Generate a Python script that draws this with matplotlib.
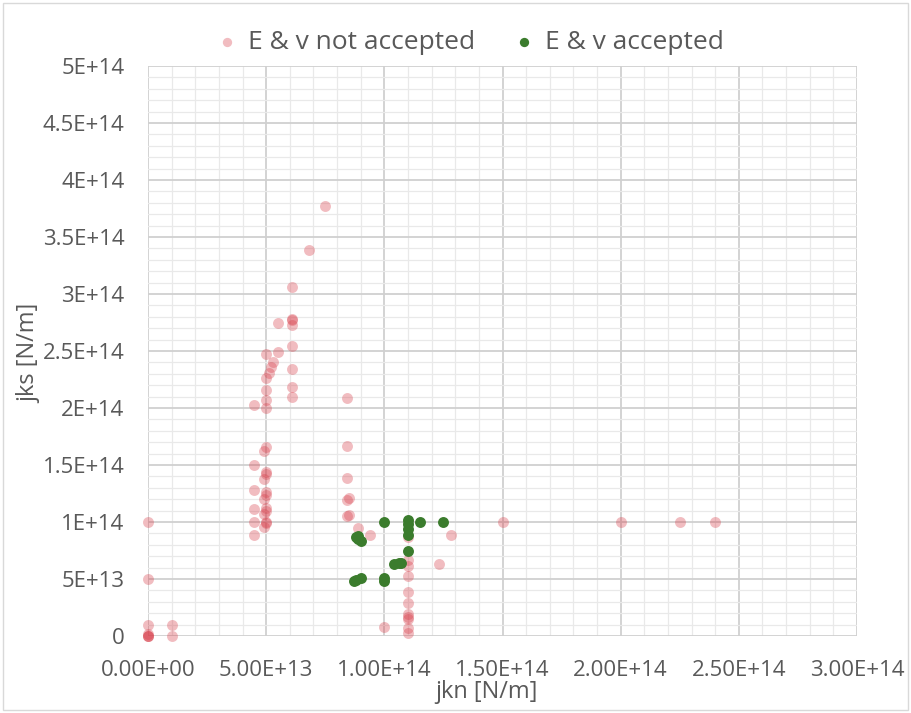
import numpy as np
import matplotlib
matplotlib.use("Agg")
import matplotlib.pyplot as plt
from matplotlib.ticker import MultipleLocator, FixedLocator, FixedFormatter
from matplotlib.patches import Rectangle

plt.rcParams["font.family"] = ["Open Sans", "DejaVu Sans"]
plt.rcParams["xtick.major.pad"] = 17
plt.rcParams["ytick.major.pad"] = 17

# joint normal / shear stiffness combinations [N/m]
rejected_jkn = [
    0, 0, 0, 0, 0, 0, 0, 1.0e13, 1.0e13,
    6.1e13, 6.1e13, 6.1e13, 6.1e13, 5.5e13, 6.1e13, 5.5e13, 5.0e13, 5.3e13,
    5.2e13, 5.1e13, 5.0e13, 6.1e13, 5.0e13, 6.1e13, 6.1e13, 5.0e13, 4.5e13,
    5.0e13, 5.0e13, 4.9e13, 4.5e13, 5.0e13, 5.0e13, 4.9e13, 4.5e13, 5.0e13,
    5.0e13, 4.9e13, 4.5e13, 5.0e13, 5.0e13, 4.9e13, 4.5e13, 5.0e13, 5.0e13,
    4.9e13, 4.5e13,
    7.5e13, 6.8e13,
    8.4e13, 8.4e13, 8.4e13, 8.4e13, 8.5e13, 8.5e13, 8.4e13, 8.9e13, 9.4e13,
    1.1e14, 1.1e14, 1.1e14, 1.1e14, 1.1e14, 1.1e14, 1.1e14, 1.1e14, 1.1e14,
    1.1e14, 1.1e14, 1.0e14,
    1.23e14, 1.28e14, 1.5e14, 2.0e14, 2.25e14, 2.4e14,
]
rejected_jks = [
    1.0e14, 5.0e13, 1.0e13, 0, 0, 0, 2e12, 1.0e13, 0,
    3.06e14, 2.78e14, 2.77e14, 2.73e14, 2.75e14, 2.54e14, 2.49e14, 2.47e14, 2.40e14,
    2.36e14, 2.31e14, 2.26e14, 2.34e14, 2.16e14, 2.18e14, 2.10e14, 2.07e14, 2.03e14,
    2.00e14, 1.66e14, 1.62e14, 1.50e14, 1.44e14, 1.42e14, 1.38e14, 1.28e14, 1.26e14,
    1.24e14, 1.20e14, 1.11e14, 1.12e14, 1.10e14, 1.07e14, 1.00e14, 1.00e14, 9.9e13,
    9.6e13, 8.9e13,
    3.77e14, 3.39e14,
    2.09e14, 1.67e14, 1.39e14, 1.19e14, 1.21e14, 1.06e14, 1.05e14, 9.5e13, 8.9e13,
    8.7e13, 6.7e13, 6.1e13, 5.3e13, 3.9e13, 2.9e13, 1.9e13, 1.7e13, 1.5e13,
    6.7e12, 2.4e12, 8e12,
    6.3e13, 8.9e13, 1.0e14, 1.0e14, 1.0e14, 1.0e14,
]

accepted_jkn = [
    1.0e14, 1.1e14, 1.1e14, 1.1e14, 1.1e14, 1.15e14, 1.25e14,
    8.8e13, 8.9e13, 9.0e13, 8.9e13, 1.1e14,
    1.04e14, 1.06e14, 1.07e14,
    8.7e13, 8.8e13, 9.0e13, 1.0e14, 1.0e14,
]
accepted_jks = [
    1.0e14, 1.02e14, 9.8e13, 9.4e13, 8.9e13, 1.0e14, 1.0e14,
    8.7e13, 8.5e13, 8.3e13, 8.8e13, 7.5e13,
    6.3e13, 6.4e13, 6.4e13,
    4.8e13, 4.9e13, 5.1e13, 5.1e13, 4.8e13,
]

y_ticks = [0, 5e13, 1e14, 1.5e14, 2e14, 2.5e14, 3e14, 3.5e14, 4e14, 4.5e14, 5e14]
y_tick_labels = ["0", "5E+13", "1E+14", "1.5E+14", "2E+14", "2.5E+14",
                 "3E+14", "3.5E+14", "4E+14", "4.5E+14", "5E+14"]
x_ticks = [0, 5e13, 1e14, 1.5e14, 2e14, 2.5e14, 3e14]

TEXT_GREY = "#595959"

fig = plt.figure(figsize=(9.11, 7.13), dpi=100)
ax = fig.add_axes([0.1625, 0.108, 0.7782, 0.7994])

ax.scatter(rejected_jkn, rejected_jks, s=62, color="#d8404c", alpha=0.35,
           linewidths=0, label="E & v not accepted", zorder=3, clip_on=False)
ax.scatter(accepted_jkn, accepted_jks, s=62, color="#3b7c2d",
           linewidths=0, label="E & v accepted", zorder=4, clip_on=False)

ax.set_xlim(0, 3e14)
ax.set_ylim(0, 5e14)
ax.xaxis.set_major_locator(FixedLocator(x_ticks))
ax.xaxis.set_major_formatter(FixedFormatter([f"{v:.2E}" for v in x_ticks]))
ax.yaxis.set_major_locator(FixedLocator(y_ticks))
ax.yaxis.set_major_formatter(FixedFormatter(y_tick_labels))
ax.xaxis.set_minor_locator(MultipleLocator(1e13))
ax.yaxis.set_minor_locator(MultipleLocator(1e13))

ax.grid(which="major", color="#d0d0d0", linewidth=1.3, zorder=1)
ax.grid(which="minor", color="#e9e9e9", linewidth=0.9, zorder=0)
ax.set_axisbelow(True)
for side in ax.spines.values():
    side.set_visible(False)

ax.tick_params(which="both", length=0, labelsize=16, colors=TEXT_GREY)
ax.set_xlabel("jkn [N/m]", fontsize=17, color=TEXT_GREY)
ax.set_ylabel("jks [N/m]", fontsize=17, color=TEXT_GREY)
ax.xaxis.set_label_coords(0.478, -0.077)
ax.yaxis.set_label_coords(-0.15, 0.496)

fig.legend(loc="center", bbox_to_anchor=(0.516, 0.94), ncol=2, frameon=False,
           fontsize=19, labelcolor=TEXT_GREY, handlelength=0.8,
           handletextpad=0.4, columnspacing=1.45, markerscale=0.85)

# thin chart-area frame
fig.patches.append(Rectangle((0.003, 0.004), 0.994, 0.992, transform=fig.transFigure,
                             fill=False, edgecolor="#d9d9d9", linewidth=1))

fig.savefig("out.png", dpi=100, facecolor="white")
